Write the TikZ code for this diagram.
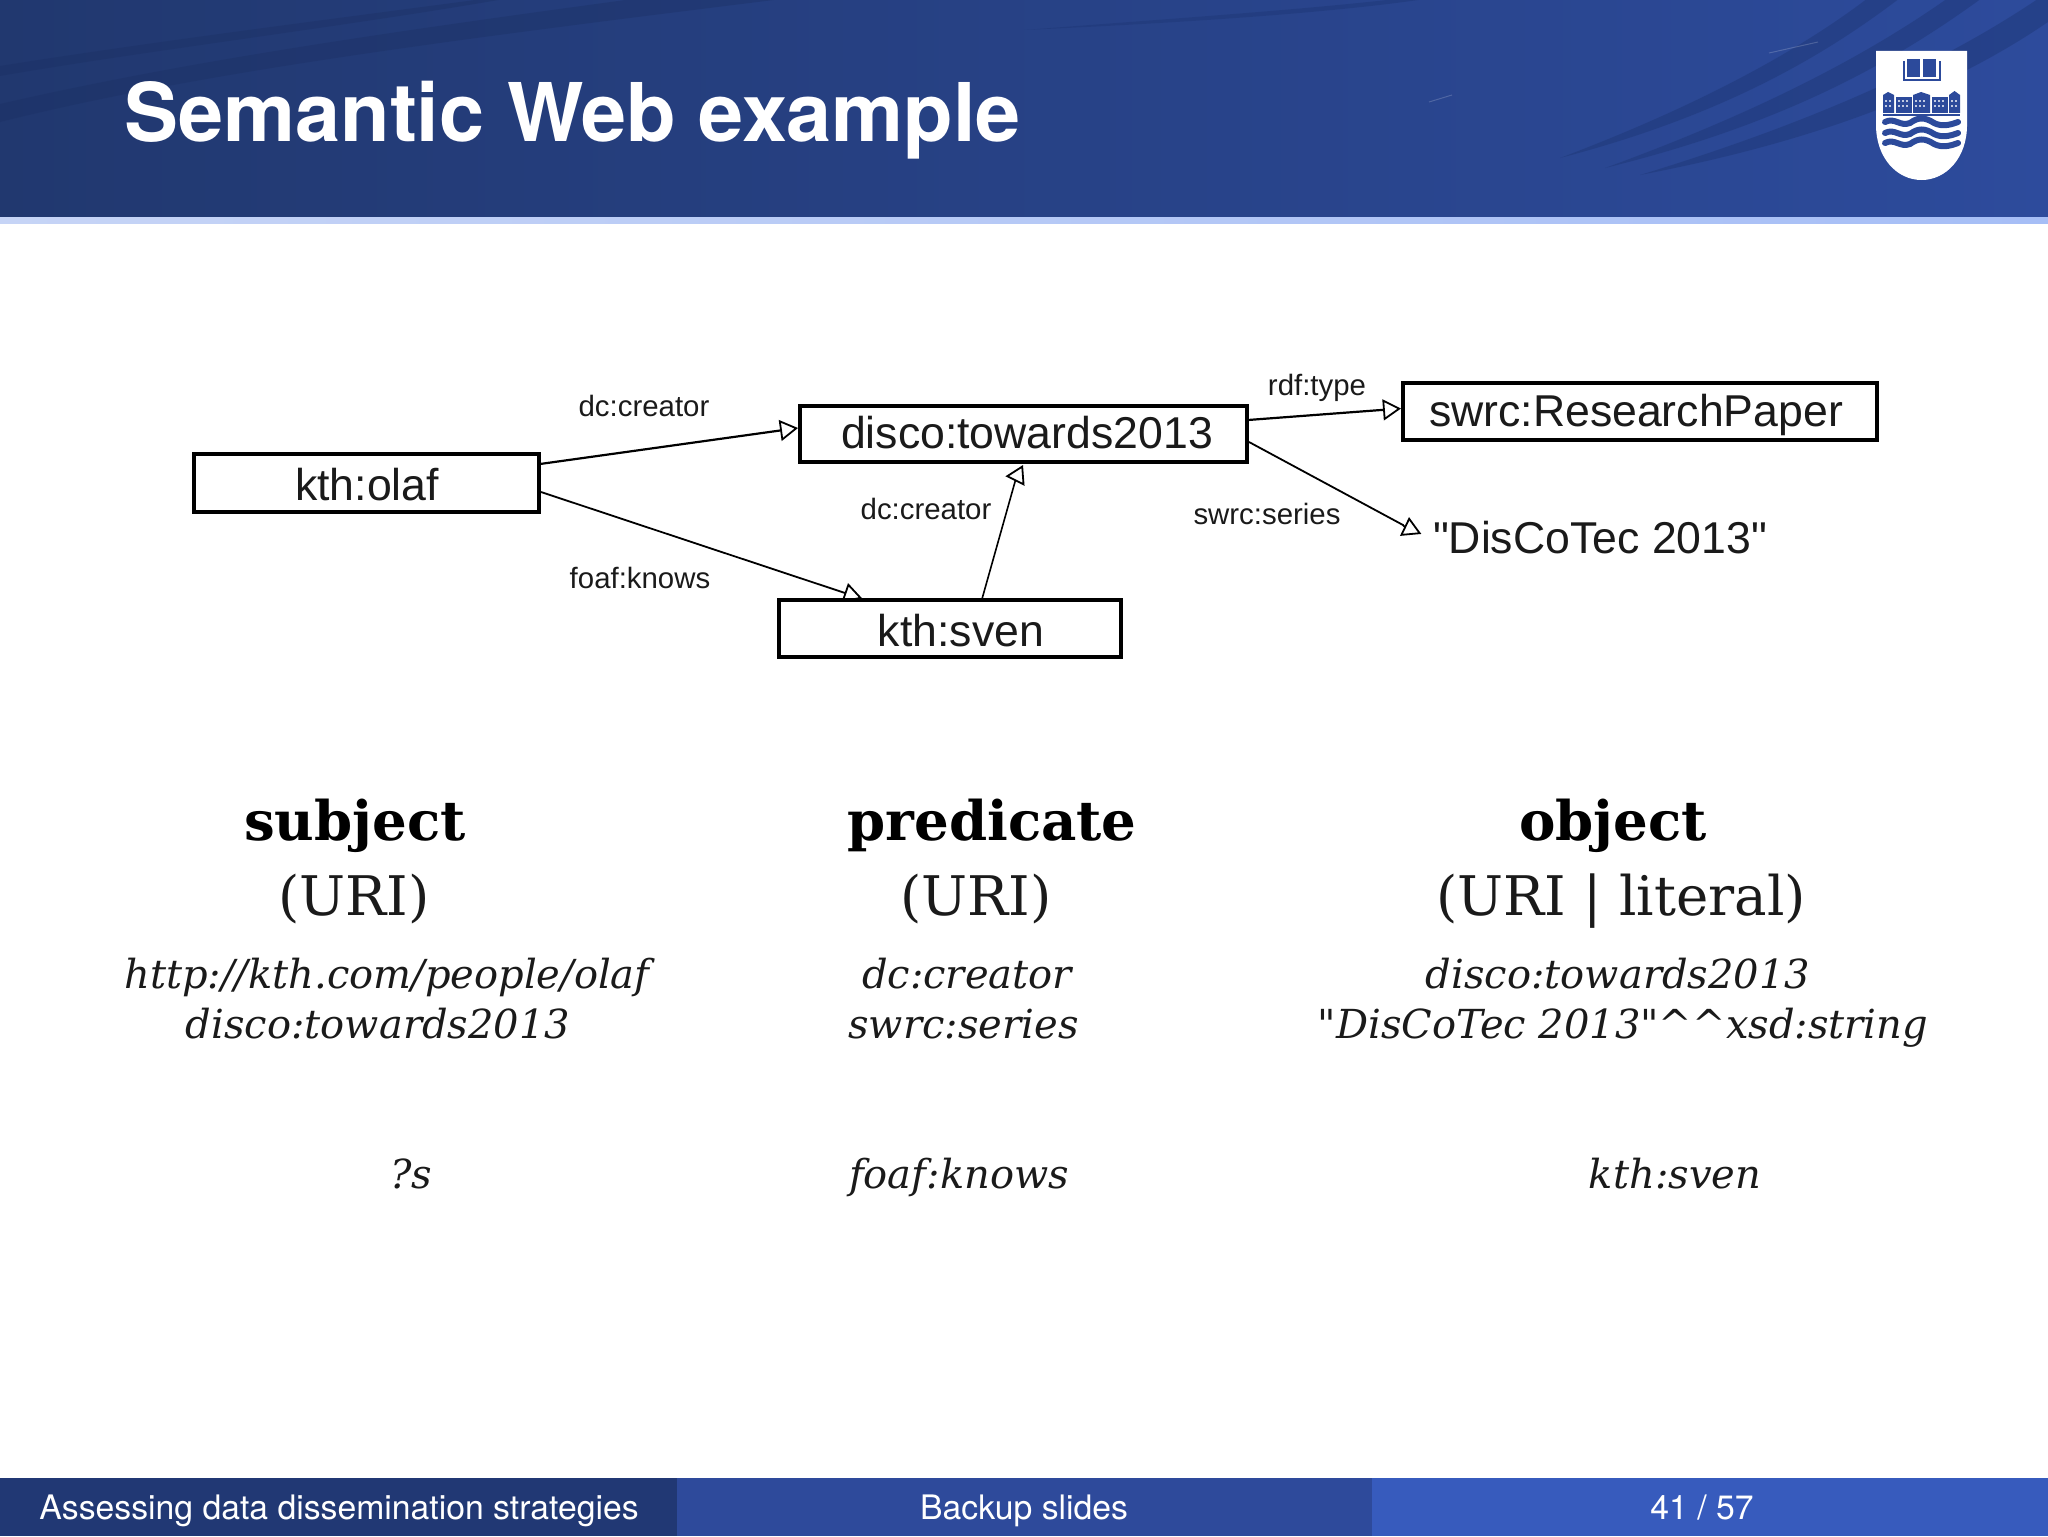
\documentclass[tikz,border=0pt]{standalone}
\usepackage{fontspec}
\usetikzlibrary{arrows.meta,calc,backgrounds}
\setmainfont{TeX Gyre Heros}
\newfontfamily\diagfont{Liberation Sans}
\newfontfamily\serfont{DejaVu Serif}
\definecolor{bannerL}{HTML}{21386F}
\definecolor{bannerM}{HTML}{28408A}
\definecolor{bannerR}{HTML}{2D4B9C}
\definecolor{footA}{HTML}{213874}
\definecolor{footB}{HTML}{2E4A9B}
\definecolor{footC}{HTML}{375BBD}
\definecolor{stripL}{HTML}{C6D4F6}
\definecolor{stripR}{HTML}{A6BEF6}
\definecolor{swoosh}{HTML}{1F3878}
\definecolor{swooshL}{HTML}{1B2F62}
\definecolor{crest}{HTML}{2C4A9B}
\definecolor{inkc}{HTML}{1A1A1A}
\tikzset{
  x=0.5pt,y=-0.5pt,
  rdfbox/.style={draw=black,line width=2.2pt,fill=white,inner sep=0pt,outer sep=0pt,
    font=\diagfont\fontsize{22.3}{24}\selectfont,text=inkc},
  rdfnode/.style={rdfbox,draw=none,fill=none},
  edgelabel/.style={inner sep=0pt,outer sep=0pt,anchor=base,text=inkc,
    font=\diagfont\fontsize{14.7}{16}\selectfont},
  headtext/.style={inner sep=0pt,anchor=base,text=black,font=\serfont\bfseries\fontsize{27.3}{29}\selectfont},
  kindtext/.style={inner sep=0pt,anchor=base,text=inkc,font=\serfont\fontsize{27.3}{29}\selectfont},
  sample/.style={inner sep=0pt,anchor=base,text=inkc,font=\serfont\itshape\fontsize{20}{22}\selectfont},
  foot/.style={inner sep=0pt,anchor=base,text=white,font=\fontsize{16.87}{19}\selectfont},
  rdfedge/.style={draw=black,line width=0.9pt,
    -{Triangle[open,fill=white,length=9pt,width=10.5pt,line width=0.9pt]}},
  band/.style={fill=swoosh,opacity=.5,draw=none},
  bandL/.style={fill=swooshL,opacity=.35,draw=none},
  crestfill/.style={fill=crest,draw=none},
  wavy/.style={draw=crest,line width=3pt,line cap=round},
}
\begin{document}
\begin{tikzpicture}
\useasboundingbox (0,0) rectangle (2048,1536);
% banner
\shade[left color=bannerL,middle color=bannerM,right color=bannerR] (0,0) rectangle (2048,217);
\begin{scope}
  \clip (0,0) rectangle (2048,217);
  \fill[band] (1868,-2) -- (1900,-2) .. controls (1825,55) and (1725,115) .. (1560,158) .. controls (1700,105) and (1800,50) .. cycle;
  \fill[band] (1948,-2) -- (1982,-2) .. controls (1890,65) and (1780,125) .. (1605,168) .. controls (1750,115) and (1860,60) .. cycle;
  \fill[band] (2048,-8) -- (2048,22) .. controls (1970,75) and (1850,135) .. (1640,175) .. controls (1820,120) and (1950,60) .. cycle;
  \fill[band] (1024,30) .. controls (1200,22) and (1340,12) .. (1432,-2) -- (1405,-2) .. controls (1300,10) and (1180,18) .. cycle;
  \fill[bandL] (0,76) .. controls (150,50) and (350,26) .. (510,-2) -- (490,-2) .. controls (340,18) and (150,42) .. (0,66) -- cycle;
  \fill[bandL] (0,122) .. controls (200,72) and (450,40) .. (790,-2) -- (640,-2) .. controls (420,28) and (200,58) .. (0,104) -- cycle;
  \draw[white,opacity=.18,line width=.5pt] (1769,53) -- (1818,42);
  \draw[white,opacity=.18,line width=.5pt] (1429,102) -- (1452,95);
\end{scope}
\shade[left color=stripL,right color=stripR] (0,217) rectangle (2048,223);
% logo
\fill[white] (1876,51) -- (1967,51) -- (1967,125) .. controls (1967,158) and (1946,180) .. (1921.5,180) .. controls (1897,180) and (1876,158) .. (1876,125) -- cycle;
\fill[crest] (1907,59) rectangle (1920,77);
\fill[crest] (1923,59) rectangle (1936,77);
\draw[crest,line width=.7pt] (1904,61) -- (1904,80) -- (1940,80) -- (1940,61);
\fill[crest] (1883,97) -- (1883,95) -- (1888,92) -- (1894,95) -- (1894,97) -- (1894,113) -- (1883,113) -- cycle;
\fill[crest] (1896,97) rectangle (1912,113);
\fill[crest] (1913,97) -- (1913,95) -- (1921,92) -- (1930,95) -- (1930,113) -- (1913,113) -- cycle;
\fill[crest] (1932,97) rectangle (1948,113);
\fill[crest] (1949,97) -- (1949,95) -- (1954.5,91) -- (1960,95) -- (1960,113) -- (1949,113) -- cycle;
\draw[crest,line width=.6pt] (1883,115) -- (1960,115);
\foreach \xx in {1885,1889,1898,1902,1906,1915,1919,1923,1934,1938,1942,1951,1955}
  \foreach \yy in {100,105}
    \fill[white,opacity=.7] (\xx,\yy) rectangle +(1.5,2.5);
\foreach \yy in {122,133,143}
  \draw[wavy] (1885,\yy) .. controls (1895,\yy-5) and (1900,\yy+5) .. (1910,\yy+1)
    .. controls (1918,\yy-5) and (1925,\yy-5) .. (1934,\yy+1)
    .. controls (1942,\yy+5) and (1950,\yy+3) .. (1958,\yy);
\node[inner sep=0pt,anchor=base west,text=white,font=\bfseries\fontsize{40.5}{43}\selectfont] (title) at (124,141) {Semantic Web example};
% diagram nodes
\node[rdfbox,minimum width=172.5pt,minimum height=29pt] (olafbox) at (366.5,483) {};
\node[rdfbox,minimum width=223.5pt,minimum height=28pt] (discobox) at (1023.5,434) {};
\node[rdfbox,minimum width=237pt,minimum height=28.5pt] (swrcbox) at (1640,411.5) {};
\node[rdfbox,minimum width=171pt,minimum height=28.5pt] (svenbox) at (950,628.5) {};
\node[rdfnode,anchor=base] (olaftxt) at (367,500) {kth:olaf};
\node[rdfnode,anchor=base] (discotxt) at (1027,448) {disco:towards2013};
\node[rdfnode,anchor=base] (swrctxt) at (1636,426) {swrc:ResearchPaper};
\node[rdfnode,anchor=base] (sventxt) at (961,646) {kth:sven};
\node[rdfnode,anchor=base west] (lit) at (1433,553) {"DisCoTec 2013"};
% connectors
\draw[rdfedge,line width=1.1pt] ($(olafbox.east)+(1,-19)$) -- ($(discobox.west)+(-2,-6)$);
\draw[rdfedge,line width=1.1pt] ($(discobox.east)+(1,-14)$) -- ($(swrcbox.west)+(-2,-3)$);
\draw[rdfedge,line width=.8pt] ($(svenbox.north)+(32,-1)$) -- ($(discobox.south)+(-8,18)$) -- ($(discobox.south)+(-0.5,3)$);
\draw[rdfedge] ($(discobox.east)+(2,8)$) -- ($(lit.base west)+(-30,-28)$) -- ($(lit.base west)+(-22.5,-19.5)$) -- ($(lit.base west)+(-24,-36)$);
\begin{scope}[on background layer]
\draw[rdfedge] ($(olafbox.east)+(2,9)$) -- ($(svenbox.north)+(-105,-7)$) -- ($(svenbox.north)+(-98,2)$) -- ($(svenbox.north)+(-102,-17)$);
\end{scope}
% edge labels
\node[edgelabel] (l1) at (644,416) {dc:creator};
\node[edgelabel] (l2) at (640,588) {foaf:knows};
\node[edgelabel] (l3) at (926,519) {dc:creator};
\node[edgelabel] (l4) at (1267,524) {swrc:series};
\node[edgelabel] (l5) at (1317,395) {rdf:type};
% triple table
\node[headtext] (h1) at (355,840) {subject};
\node[headtext] (h2) at (992,840) {predicate};
\node[headtext] (h3) at (1613,840) {object};
\node[kindtext] (k1) at (354,915) {(URI)};
\node[kindtext] (k2) at (976,915) {(URI)};
\node[kindtext] (k3) at (1621,915) {(URI | literal)};
\node[sample] (a1) at (387,988) {http://kth.com/people/olaf};
\node[sample] (a2) at (378,1038) {disco:towards2013};
\node[sample] (b1) at (967,988) {dc:creator};
\node[sample] (b2) at (963.5,1038) {swrc:series};
\node[sample] (c1) at (1618,988) {disco:towards2013};
\node[sample] (c2) at (1623,1038) {"DisCoTec 2013"\textasciicircum\textasciicircum xsd:string};
\node[sample] (d1) at (411,1188) {?s};
\node[sample] (d2) at (959,1188) {foaf:knows};
\node[sample] (d3) at (1675,1188) {kth:sven};
% footer
\fill[footA] (0,1478) rectangle (677,1536);
\fill[footB] (677,1478) rectangle (1372,1536);
\fill[footC] (1372,1478) rectangle (2048,1536);
\node[foot,anchor=base west] (f1) at (39,1519) {Assessing data dissemination strategies};
\node[foot] (f2) at (1024,1519) {Backup slides};
\node[foot] (f3) at (1702,1519) {41 / 57};
\end{tikzpicture}
\end{document}
